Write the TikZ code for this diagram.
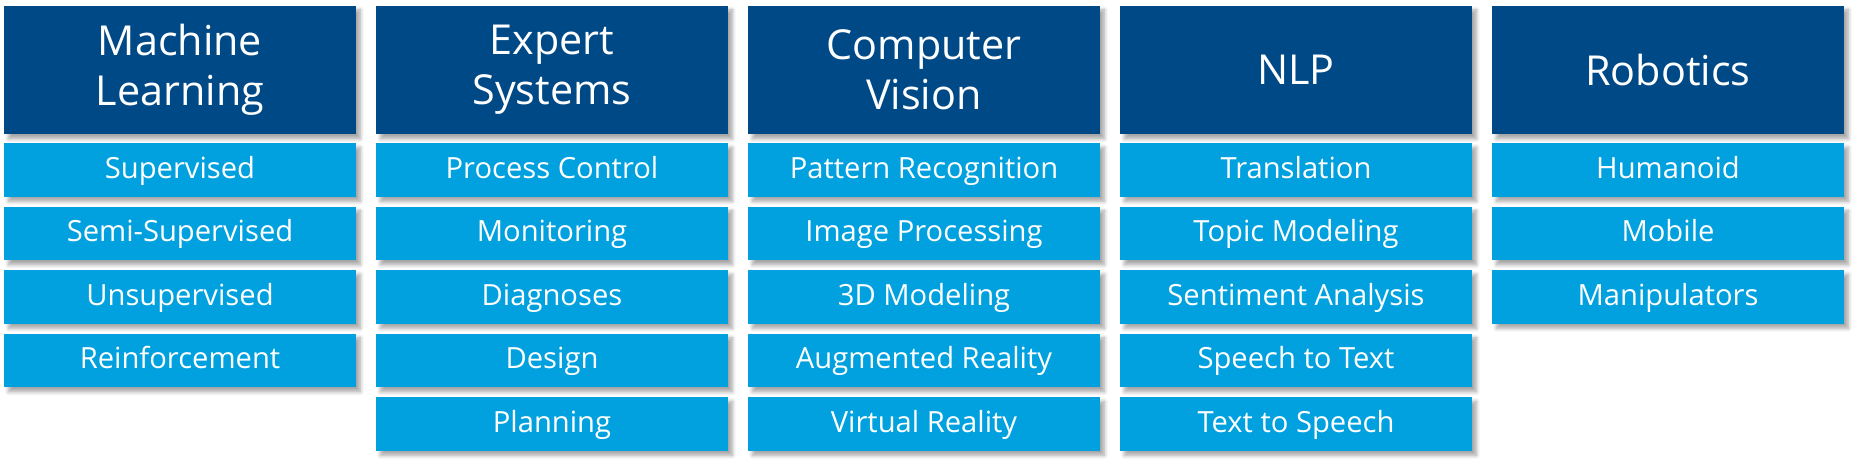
\documentclass[tikz,border=0pt]{standalone}
\usepackage{fontspec}
\setmainfont{Open Sans}
\usetikzlibrary{shadows.blur}
\definecolor{areablue}{RGB}{0,73,135}
\definecolor{fieldblue}{RGB}{0,161,222}
\def\colstep{372}
\tikzset{
  topicbox/.style={
    fill=areablue,
    text=white,
    align=center,
    minimum width=7.04cm,
    minimum height=2.58cm,
    inner sep=0pt,
    font=\fontsize{23.5}{28.5}\selectfont,
    blur shadow={shadow xshift=2.5pt, shadow yshift=-2.5pt, shadow blur steps=6, shadow opacity=35},
  },
  subtopicbox/.style={
    topicbox,
    fill=fieldblue,
    minimum height=1.08cm,
    text height=13pt,
    text depth=3.4pt,
    font=\fontsize{16.6}{20}\selectfont,
  }
}
\newcommand{\topic}[3]{%
  \node[topicbox] (#2) at (180+#1*\colstep,70) {#3};
}
\newcommand{\subtopic}[4]{%
  \node[subtopicbox] (#3) at (180+#1*\colstep,170+#2*63.5) {#4};
}

\begin{document}
\begin{tikzpicture}[x=0.02cm,y=-0.02cm]

\useasboundingbox (0,0) rectangle (1857,472);

% column headers
\topic{0}{ml}{Machine\\Learning}
\topic{1}{es}{Expert\\Systems}
\topic{2}{cv}{Computer\\Vision}
\topic{3}{nlp}{NLP}
\topic{4}{rob}{Robotics}

% machine learning
\subtopic{0}{0}{ml1}{Supervised}
\subtopic{0}{1}{ml2}{Semi-Supervised}
\subtopic{0}{2}{ml3}{Unsupervised}
\subtopic{0}{3}{ml4}{Reinforcement}

% expert systems
\subtopic{1}{0}{es1}{Process Control}
\subtopic{1}{1}{es2}{Monitoring}
\subtopic{1}{2}{es3}{Diagnoses}
\subtopic{1}{3}{es4}{Design}
\subtopic{1}{4}{es5}{Planning}

% computer vision
\subtopic{2}{0}{cv1}{Pattern Recognition}
\subtopic{2}{1}{cv2}{Image Processing}
\subtopic{2}{2}{cv3}{3D Modeling}
\subtopic{2}{3}{cv4}{Augmented Reality}
\subtopic{2}{4}{cv5}{Virtual Reality}

% nlp
\subtopic{3}{0}{nlp1}{Translation}
\subtopic{3}{1}{nlp2}{Topic Modeling}
\subtopic{3}{2}{nlp3}{Sentiment Analysis}
\subtopic{3}{3}{nlp4}{Speech to Text}
\subtopic{3}{4}{nlp5}{Text to Speech}

% robotics
\subtopic{4}{0}{rob1}{Humanoid}
\subtopic{4}{1}{rob2}{Mobile}
\subtopic{4}{2}{rob3}{Manipulators}

\end{tikzpicture}
\end{document}
